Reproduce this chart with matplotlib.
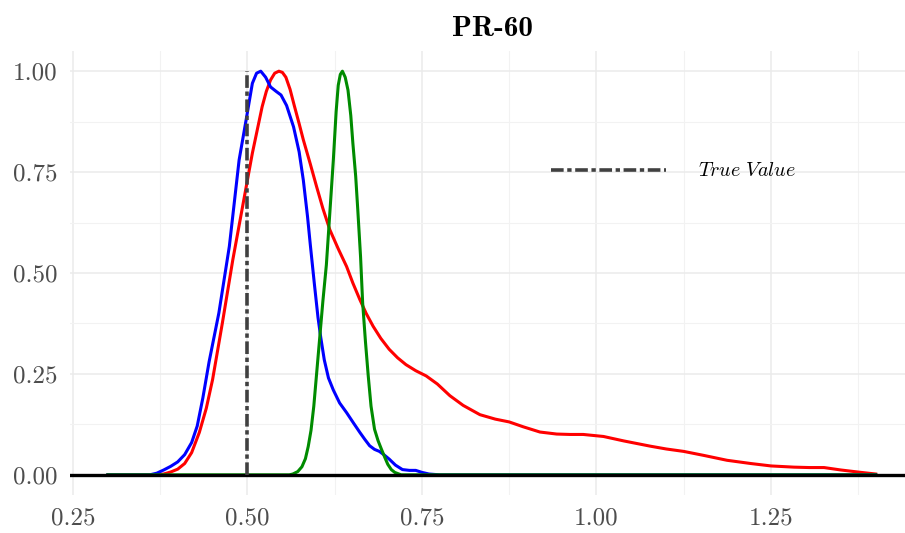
import matplotlib
matplotlib.use("Agg")
import matplotlib.pyplot as plt
from matplotlib.ticker import MultipleLocator

# scaled densities (x, y)
blueX = [0.30, 0.36, 0.37, 0.38, 0.39, 0.40, 0.41, 0.42, 0.428, 0.436, 0.445, 0.459, 0.474,
         0.488, 0.498, 0.507, 0.513, 0.519, 0.526, 0.533, 0.541, 0.548, 0.556, 0.566, 0.574,
         0.580, 0.586, 0.590, 0.596, 0.601, 0.605, 0.610, 0.616, 0.623, 0.632, 0.642, 0.652,
         0.661, 0.668, 0.675, 0.682, 0.689, 0.696, 0.703, 0.712, 0.722, 0.732, 0.741, 0.750,
         0.760, 0.775, 1.40]
blueY = [0.0, 0.0, 0.004, 0.012, 0.021, 0.032, 0.05, 0.08, 0.121, 0.19, 0.28, 0.401, 0.566,
         0.78, 0.879, 0.97, 0.995, 1.0, 0.985, 0.961, 0.95, 0.941, 0.915, 0.862, 0.80,
         0.73, 0.64, 0.57, 0.47, 0.39, 0.34, 0.285, 0.24, 0.21, 0.178, 0.154, 0.128,
         0.105, 0.088, 0.072, 0.063, 0.058, 0.049, 0.039, 0.024, 0.013, 0.011, 0.011, 0.006,
         0.002, 0.0, 0.0]

redX = [0.30, 0.37, 0.38, 0.39, 0.40, 0.41, 0.42, 0.431, 0.441, 0.450, 0.464, 0.479, 0.493,
        0.507, 0.521, 0.527, 0.533, 0.539, 0.545, 0.550, 0.555, 0.561, 0.567, 0.574, 0.580,
        0.590, 0.599, 0.608, 0.618, 0.630, 0.642, 0.651, 0.661, 0.670, 0.680, 0.691, 0.703,
        0.715, 0.727, 0.741, 0.756, 0.772, 0.790, 0.809, 0.833, 0.855, 0.875, 0.895, 0.919,
        0.943, 0.962, 0.981, 1.010, 1.039, 1.077, 1.100, 1.125, 1.154, 1.187, 1.221, 1.250,
        1.283, 1.305, 1.326, 1.350, 1.379, 1.40]
redY = [0.0, 0.0, 0.002, 0.007, 0.014, 0.028, 0.055, 0.105, 0.165, 0.236, 0.376, 0.533, 0.665,
        0.797, 0.912, 0.95, 0.978, 0.995, 1.0, 0.997, 0.985, 0.955, 0.915, 0.87, 0.83,
        0.77, 0.714, 0.66, 0.607, 0.56, 0.516, 0.475, 0.434, 0.40, 0.368, 0.338, 0.311,
        0.29, 0.273, 0.258, 0.245, 0.225, 0.196, 0.172, 0.149, 0.138, 0.131, 0.119, 0.106,
        0.101, 0.10, 0.10, 0.095, 0.084, 0.071, 0.064, 0.058, 0.048, 0.036, 0.028, 0.022,
        0.019, 0.018, 0.018, 0.012, 0.006, 0.002]

greenX = [0.30, 0.560, 0.565, 0.572, 0.578, 0.583, 0.587, 0.591, 0.595, 0.599, 0.603, 0.608,
          0.613, 0.618, 0.623, 0.627, 0.630, 0.633, 0.636, 0.640, 0.644, 0.648, 0.651, 0.655,
          0.658, 0.662, 0.665, 0.669, 0.673, 0.677, 0.682, 0.687, 0.692, 0.697, 0.701, 0.706,
          0.711, 0.720, 1.40]
greenY = [0.0, 0.0, 0.002, 0.008, 0.02, 0.04, 0.07, 0.11, 0.17, 0.25, 0.33, 0.43,
          0.52, 0.65, 0.78, 0.90, 0.965, 0.992, 1.0, 0.985, 0.953, 0.89, 0.821, 0.74,
          0.657, 0.54, 0.426, 0.33, 0.245, 0.17, 0.113, 0.085, 0.063, 0.042, 0.026, 0.013,
          0.006, 0.0, 0.0]

trueValue = 0.5
xTicks = [0.25, 0.50, 0.75, 1.00, 1.25]
yTicks = [0.00, 0.25, 0.50, 0.75, 1.00]

plt.rcParams['mathtext.fontset'] = 'cm'

fig = plt.figure(figsize=(9.05, 5.33), dpi=100)
ax = fig.add_axes([69.5 / 905, 38 / 533, 1 - 69.5 / 905, 444 / 533])

dotdash = (0, (3.5, 1.0, 1.2, 1.0))
ax.plot(redX, redY, color='#FF0000', lw=2.2, zorder=3)
ax.plot(blueX, blueY, color='#0000FF', lw=2.2, zorder=3)
ax.plot(greenX, greenY, color='#008B00', lw=2.2, zorder=3)
ax.axhline(0, color='black', lw=2.4, zorder=4)
ax.plot([trueValue, trueValue], [0, 1], color='#404040', lw=2.6,
        linestyle=dotdash, zorder=5)

# legend-like annotation
ax.plot([0.935, 1.10], [0.755, 0.755], color='#404040', lw=2.6,
        linestyle=dotdash, zorder=5)
ax.text(1.145, 0.755, r'$True\ Value$', fontsize=14.5, va='center', ha='left', color='black')

ax.set_xlim(0.245, 1.442)
ax.set_ylim(-0.05, 1.05)
ax.set_xticks(xTicks, [f"{t:.2f}" for t in xTicks])
ax.set_yticks(yTicks, [f"{t:.2f}" for t in yTicks])
ax.xaxis.set_minor_locator(MultipleLocator(0.125))
ax.yaxis.set_minor_locator(MultipleLocator(0.125))
for lbl in ax.get_xticklabels() + ax.get_yticklabels():
    lbl.set_family('cmr10')
ax.tick_params(which='both', length=0, labelsize=18, labelcolor='#4D4D4D', pad=9)
ax.grid(which='major', color='#EBEBEB', lw=1.1)
ax.grid(which='minor', color='#F2F2F2', lw=0.8)
ax.set_axisbelow(True)
for s in ax.spines.values():
    s.set_visible(False)

# the original panel runs a little past the right edge, so centre the title on it
ax.set_title('PR-60', family='cmb10', fontsize=21, pad=11, x=(492 - 69.5) / (905 - 69.5))

fig.savefig('out.png', dpi=100)
